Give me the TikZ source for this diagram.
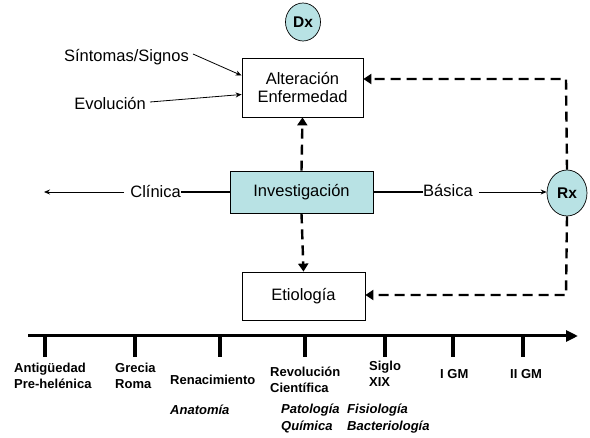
\documentclass[tikz,border=0pt]{standalone}
\usepackage{fontspec}
\setmainfont{Liberation Sans}
\usetikzlibrary{arrows.meta,shapes.geometric}
\definecolor{boxcyan}{RGB}{184,226,228}
\tikzset{
  box/.style={draw, line width=0.8pt, minimum width=121pt, minimum height=59pt, align=center, font=\fontsize{16.5}{19}\selectfont, inner sep=0pt},
  bubble/.style={draw, line width=0.7pt, fill=boxcyan, ellipse, inner sep=0pt, font=\bfseries\fontsize{15.5}{17}\selectfont},
  lbl/.style={font=\fontsize{16.5}{19}\selectfont, inner sep=0pt},
  dashconn/.style={line width=2.4pt, dash pattern=on 10pt off 6pt, -{Triangle[length=8pt,width=10pt]}},
  thinarrow/.style={line width=0.8pt, -{Stealth[length=6pt,width=5pt]}},
  thickline/.style={line width=2.4pt},
  tick/.style={line width=3.4pt},
  era/.style={font=\bfseries\fontsize{13}{16}\selectfont, inner sep=0pt, align=left},
  field/.style={font=\bfseries\itshape\fontsize{13}{17}\selectfont, inner sep=0pt, align=left}
}
\begin{document}
\begin{tikzpicture}[x=1pt,y=-1pt]
\useasboundingbox (0,0) rectangle (590,438);
% nodes
\node[box] (alt) at (302.5,87.5) {Alteración\\[-1pt]Enfermedad};
\node[box, fill=boxcyan, minimum width=143pt, minimum height=42pt] (inv) at (301.5,192) {Investigación};
\node[box, minimum width=123pt, minimum height=48pt] (eti) at (303.5,296) {Etiología};
\node[bubble, minimum width=35pt, minimum height=38pt] (dx) at (303,22) {Dx};
\node[bubble, minimum width=40pt, minimum height=46pt] (rx) at (567,193) {Rx};
\node[lbl, anchor=east] (sint) at (189,57) {Síntomas/Signos};
\node[lbl, anchor=east] (evo) at (146,104) {Evolución};
\node[lbl, anchor=east] (cli) at (181,192) {Clínica};
\node[lbl, anchor=west] (bas) at (423,191) {Básica};
\coordinate (cliend) at (44,192);
\coordinate (topcorner) at (566,79);
\coordinate (botcorner) at (566,295);
% connectors
\draw[thinarrow] ([shift={(4,-3)}]sint.east) -- ([yshift=12pt]alt.west);
\draw[thinarrow] ([shift={(4,-2)}]evo.east) -- ([yshift=-7pt]alt.west);
\draw[thickline] (inv.west) -- (cli.east |- inv.west);
\draw[thinarrow] ([xshift=-6pt]cli.west |- inv.west) -- (cliend);
\draw[thickline] (inv.east) -- (bas.west |- inv.east);
\draw[thinarrow] ([xshift=6pt]bas.east |- inv.east) -- (rx.west |- inv.east);
\draw[dashconn] (inv.north) -- (alt.south);
\draw[dashconn] (inv.south) -- (eti.north);
\draw[dashconn] (rx.north) -- (topcorner) -- (alt.east |- topcorner);
\draw[dashconn] (rx.south) -- (botcorner) -- (eti.east |- botcorner);
% timeline
\coordinate (tl0) at (28,336);
\coordinate (tl1) at (578,336);
\draw[line width=3pt, -{Triangle[length=12pt,width=11pt]}] (tl0) -- (tl1);
\foreach \x/\n in {45/t1,135/t2,220/t3,305/t4,385/t5,453/t6,523/t7}{
  \coordinate (\n) at (\x,336);
  \draw[tick] (\n) -- ++(0,21);
}
\node[era, anchor=north west] (e1) at (14,363) {Antigüedad\\Pre-helénica};
\node[era, anchor=north west] (e2) at (115,363) {Grecia\\Roma};
\node[era, anchor=west] (e3) at (170,380) {Renacimiento};
\node[era, anchor=north west] (e4) at (270,367) {Revolución\\Científica};
\node[era, anchor=north west] (e5) at (369,361) {Siglo\\XIX};
\node[era, anchor=west] (e6) at (440,374) {I GM};
\node[era, anchor=west] (e7) at (510,374) {II GM};
\node[field, anchor=west] (f1) at (170,410) {Anatomía};
\node[field, anchor=north west] (f2) at (281,404) {Patología\\Química};
\node[field, anchor=north west] (f3) at (347,404) {Fisiología\\Bacteriología};
\end{tikzpicture}
\end{document}
